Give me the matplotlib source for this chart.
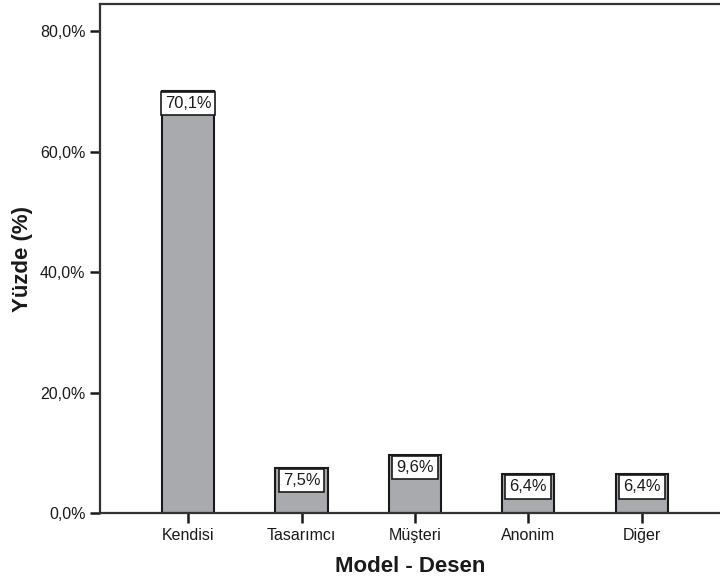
import matplotlib.pyplot as plt

plt.rcParams['font.family'] = ['Liberation Sans', 'DejaVu Sans']

# Data
categories = ['Kendisi', 'Tasarımcı', 'Müşteri', 'Anonim', 'Diğer']
percent = [70.1, 7.5, 9.6, 6.4, 6.4]
labels = ['70,1%', '7,5%', '9,6%', '6,4%', '6,4%']
yticks = [0, 20, 40, 60, 80]
ytick_labels = ['0,0%', '20,0%', '40,0%', '60,0%', '80,0%']

fig = plt.figure(figsize=(7.2, 5.81), dpi=100)
ax = fig.add_axes([100 / 720, 1 - 513 / 581, 1 - 100 / 720, (513 - 4) / 581])

x = range(len(categories))
ax.bar(x, percent, width=0.46, color='#a9aaae', edgecolor='#1a1a1a', linewidth=1.5)

# value boxes sitting inside the top of each bar
for xi, v, lab in zip(x, percent, labels):
    ax.annotate(lab, (xi, v), xytext=(0, -3.6), textcoords='offset points',
                ha='center', va='top', fontsize=11.8, color='#1a1a1a',
                bbox=dict(boxstyle='square,pad=0.25', fc='white', ec='#1a1a1a', lw=1.2))

ax.set_xlim(-0.777, 4.69)
ax.set_ylim(0, 84.5)
ax.set_xticks(list(x))
ax.set_xticklabels(categories, fontsize=11.5, color='#1a1a1a')
ax.set_yticks(yticks)
ax.set_yticklabels(ytick_labels, fontsize=11.5, color='#1a1a1a')
ax.tick_params(length=7.5, width=1.8, color='#1a1a1a', pad=3)

for side in ['left', 'bottom', 'top']:
    ax.spines[side].set_linewidth(1.6)
    ax.spines[side].set_color('#333333')
ax.spines['right'].set_visible(False)

ax.set_xlabel('Model - Desen', fontsize=16, fontweight='bold', labelpad=10, color='#1a1a1a')
ax.set_ylabel('Yüzde (%)', fontsize=16, fontweight='bold', labelpad=5, color='#1a1a1a')

plt.savefig('out.png', dpi=100)
